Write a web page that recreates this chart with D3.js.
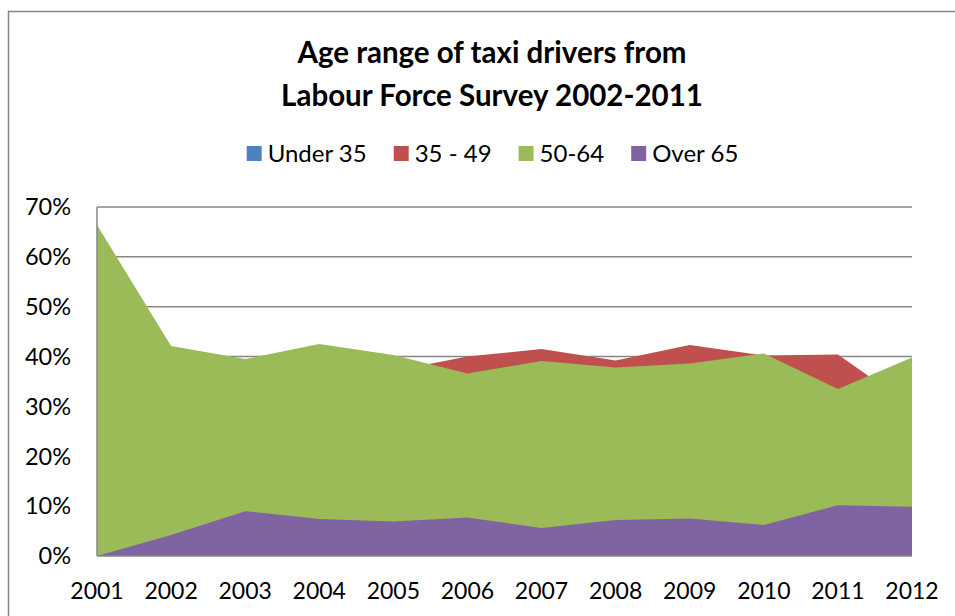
<!DOCTYPE html>
<html lang="en">
<head>
    <meta charset="UTF-8">
    <title>Age range of taxi drivers</title>
    <script src="https://d3js.org/d3.v7.min.js"></script>
    <style>
        body {
            margin: 0;
            padding: 0;
            background-color: #fff;
        }
        svg text {
            font-family: Lato, "Open Sans", sans-serif;
            fill: #000;
        }
    </style>
</head>
<body>

    <svg id="chart" width="955" height="616"></svg>

    <script>
        // Data (percent)
        const years = ['2001', '2002', '2003', '2004', '2005', '2006', '2007', '2008', '2009', '2010', '2011', '2012'];
        const seriesNames = ['Under 35', '35 - 49', '50-64', 'Over 65'];
        const under35 = [0, 15, 16, 15, 15, 17, 15, 16, 15, 14, 17, 20];   // fully hidden behind the others
        const age35to49 = [33, 37, 36, 38, 37.1, 40.0, 41.5, 39.2, 42.3, 40.2, 40.4, 30.0];
        const age50to64 = [66.4, 42.1, 39.5, 42.5, 40.3, 36.6, 39.1, 37.8, 38.6, 40.6, 33.5, 39.8];
        const over65 = [0, 4.2, 9.0, 7.4, 6.9, 7.7, 5.6, 7.2, 7.5, 6.2, 10.2, 9.9];
        const yTicks = [0, 10, 20, 30, 40, 50, 60, 70];
        const colors = ['#4F81BD', '#C0504D', '#9BBB59', '#8064A2'];

        const allSeries = [under35, age35to49, age50to64, over65];

        const svg = d3.select('#chart');

        // chart frame (runs off the right and bottom of the picture)
        svg.append('rect')
            .attr('x', 8.5)
            .attr('y', 11.5)
            .attr('width', 1000)
            .attr('height', 700)
            .attr('fill', '#fff')
            .attr('stroke', '#868686')
            .attr('stroke-width', 1.5);

        const x = d3.scalePoint()
            .domain(years)
            .range([97, 912]);

        const y = d3.scaleLinear()
            .domain([0, 70])
            .range([556, 207]);

        // gridlines
        svg.append('g')
            .selectAll('line')
            .data(yTicks.filter(d => d > 0))
            .enter()
            .append('line')
            .attr('x1', 97)
            .attr('x2', 912)
            .attr('y1', d => y(d))
            .attr('y2', d => y(d))
            .attr('stroke', '#868686')
            .attr('stroke-width', 1.5);

        // overlapping areas, first series at the back
        const area = d3.area()
            .x((d, i) => x(years[i]))
            .y0(y(0))
            .y1(d => y(d));

        svg.append('g')
            .selectAll('path')
            .data(allSeries)
            .enter()
            .append('path')
            .attr('d', d => area(d))
            .attr('fill', (d, i) => colors[i]);

        // axis lines
        svg.append('line')
            .attr('x1', 97).attr('x2', 97)
            .attr('y1', y(70)).attr('y2', y(0))
            .attr('stroke', '#868686')
            .attr('stroke-width', 1.5);
        svg.append('line')
            .attr('x1', 97).attr('x2', 912)
            .attr('y1', y(0)).attr('y2', y(0))
            .attr('stroke', '#868686')
            .attr('stroke-width', 1.5);

        // y labels
        svg.append('g')
            .selectAll('text')
            .data(yTicks)
            .enter()
            .append('text')
            .attr('x', 71)
            .attr('y', d => y(d))
            .attr('dy', '0.35em')
            .attr('text-anchor', 'end')
            .style('font-size', '23.5px')
            .text(d => d + '%');

        // x labels
        svg.append('g')
            .selectAll('text')
            .data(years)
            .enter()
            .append('text')
            .attr('x', d => x(d))
            .attr('y', 599)
            .attr('text-anchor', 'middle')
            .style('font-size', '23px')
            .text(d => d);

        // title
        const title = ['Age range of taxi drivers from', 'Labour Force Survey 2002-2011'];
        svg.append('g')
            .selectAll('text')
            .data(title)
            .enter()
            .append('text')
            .attr('x', 492)
            .attr('y', (d, i) => 63 + i * 43)
            .attr('text-anchor', 'middle')
            .style('font-size', '29.5px')
            .style('font-weight', 'bold')
            .text(d => d);

        // legend
        const legend = svg.append('g');
        const items = legend.selectAll('g')
            .data(seriesNames)
            .enter()
            .append('g');
        items.append('rect')
            .attr('width', 15)
            .attr('height', 15)
            .attr('y', 146)
            .attr('fill', (d, i) => colors[i]);
        items.append('text')
            .attr('x', 21)
            .attr('y', 153.5)
            .attr('dy', '0.35em')
            .style('font-size', '24px')
            .text(d => d);

        let pos = 0;
        const widths = [];
        items.each(function () {
            const w = d3.select(this).select('text').node().getComputedTextLength() + 21;
            widths.push(pos);
            pos += w + 27;
        });
        const total = pos - 27;
        const start = 492.5 - total / 2;
        items.attr('transform', (d, i) => `translate(${start + widths[i]},0)`);
    </script>

</body>
</html>
